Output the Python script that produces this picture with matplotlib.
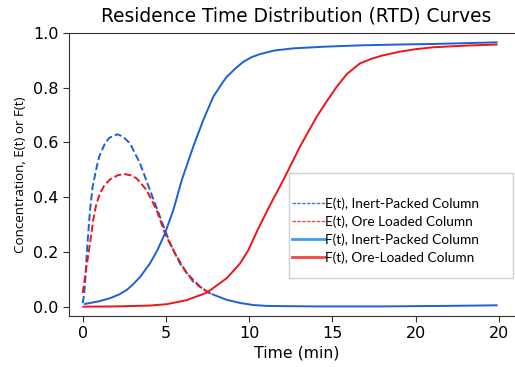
import matplotlib
matplotlib.use("Agg")
import matplotlib.pyplot as plt
from matplotlib.lines import Line2D
from matplotlib.patches import Rectangle

# E(t) curves
t_e_inert = [0, 0.06, 0.14, 0.25, 0.44, 0.6, 0.84, 1.0, 1.34, 1.6, 2.08, 2.4, 2.84,
             3.44, 4.04, 4.64, 5.24, 5.84, 6.64, 7.45, 7.8]
e_inert = [0.013, 0.035, 0.08, 0.2, 0.353, 0.44, 0.51, 0.55, 0.597, 0.617, 0.63,
           0.622, 0.597, 0.524, 0.426, 0.329, 0.232, 0.158, 0.091, 0.055, 0.045]
# tail of the inert E(t) curve, drawn solid in the original
t_e_tail = [7.8, 8.65, 9.5, 10.25, 11, 12, 14, 16, 18, 20, 22, 24.86]
e_tail = [0.045, 0.025, 0.013, 0.006, 0.003, 0.002, 0.001, 0.001, 0.001, 0.002, 0.003, 0.005]

t_e_ore = [0, 0.1, 0.24, 0.45, 0.64, 0.82, 1.04, 1.3, 1.64, 2.1, 2.48, 2.9, 3.24,
           3.84, 4.44, 4.94, 5.54, 6.25, 7.05, 7.6]
e_ore = [0.05, 0.09, 0.15, 0.235, 0.32, 0.375, 0.414, 0.443, 0.465, 0.48, 0.485,
         0.48, 0.469, 0.426, 0.353, 0.268, 0.195, 0.122, 0.073, 0.05]

# F(t) curves
t_f_inert = [0.14, 1.0, 1.64, 2.2, 2.64, 3.0, 3.44, 4.04, 4.5, 4.94, 5.44, 5.95,
             6.64, 7.24, 7.84, 8.3, 8.65, 9.2, 9.65, 10.15, 10.65, 11.5, 12.65,
             14.5, 16.65, 19, 21.06, 23, 24.86]
f_inert = [0.01, 0.02, 0.031, 0.045, 0.061, 0.08, 0.108, 0.158, 0.208, 0.268, 0.352,
           0.463, 0.585, 0.682, 0.767, 0.81, 0.84, 0.872, 0.895, 0.912, 0.923, 0.936,
           0.944, 0.950, 0.955, 0.958, 0.96, 0.963, 0.966]

t_f_ore = [0.04, 2, 4, 5.04, 6.25, 7.45, 8.65, 9.45, 9.95, 10.5, 11.25, 12.05,
           12.65, 13.05, 14.05, 14.65, 15.26, 15.86, 16.65, 17.3, 18, 19.06, 20,
           21.06, 23, 24.86]
f_ore = [0.0, 0.001, 0.004, 0.009, 0.024, 0.051, 0.104, 0.158, 0.207, 0.28, 0.371,
         0.463, 0.536, 0.585, 0.694, 0.75, 0.804, 0.85, 0.889, 0.905, 0.918, 0.932,
         0.941, 0.948, 0.954, 0.958]

x_ticks = [0, 5, 10, 15, 20, 25]
x_tick_labels = ["0", "5", "10", "15", "20", "20"]
y_ticks = [0.0, 0.2, 0.4, 0.6, 0.8, 1.0]

legend_labels = ["E(t), Inert-Packed Column", "E(t), Ore Loaded Column",
                 "F(t), Inert-Packed Column", "F(t), Ore-Loaded Column"]

blue = "#1c5fd6"
red = "#f01414"

fig = plt.figure(figsize=(5.15, 3.67), dpi=100)
ax = fig.add_axes([0.1334, 0.139, 0.884, 0.771])

ax.plot(t_e_inert, e_inert, "--", color=blue, lw=1.4)
ax.plot(t_e_tail, e_tail, "-", color=blue, lw=1.4)
ax.plot(t_e_ore, e_ore, "--", color=red, lw=1.4)
ax.plot(t_f_inert, f_inert, "-", color=blue, lw=1.4)
ax.plot(t_f_ore, f_ore, "-", color=red, lw=1.4)

ax.set_xlim(-0.84, 26.5)
ax.set_ylim(-0.034, 1.0)
ax.set_xticks(x_ticks)
ax.set_xticklabels(x_tick_labels)
ax.set_yticks(y_ticks)
ax.tick_params(labelsize=11.5, length=4, color="#333333")
for s in ax.spines.values():
    s.set_color("#333333")
ax.spines["right"].set_visible(False)

ax.set_title("Residence Time Distribution (RTD) Curves", fontsize=13.4, pad=8)
ax.set_xlabel("Time (min)", fontsize=11.3, labelpad=3)
ax.set_ylabel("Concentration, E(t) or F(t)", fontsize=9.6, family="Open Sans", labelpad=4)

# legend box (the original frame is larger than its entries)
ax.add_patch(Rectangle((0.4839, 0.1343), 0.4919, 0.371, transform=ax.transAxes,
                       facecolor="white", edgecolor="#d0d0d0", lw=1.0, zorder=4))

handles = [
    Line2D([], [], color="#4a7cc0", lw=1.0, ls=(0, (2.5, 1))),
    Line2D([], [], color="#e84a55", lw=1.0, ls=(0, (2.5, 1))),
    Line2D([], [], color="#3a9ef0", lw=2.0),
    Line2D([], [], color="#f04848", lw=2.0),
]
leg = ax.legend(handles, legend_labels, loc="upper left", bbox_to_anchor=(0.4911, 0.4205),
                prop={"family": "Lato", "size": 9.8}, handlelength=2.4,
                handletextpad=0.0, labelspacing=0.4, borderpad=0.0,
                frameon=False, borderaxespad=0)
leg.set_zorder(5)

fig.savefig("out.png", dpi=100)
